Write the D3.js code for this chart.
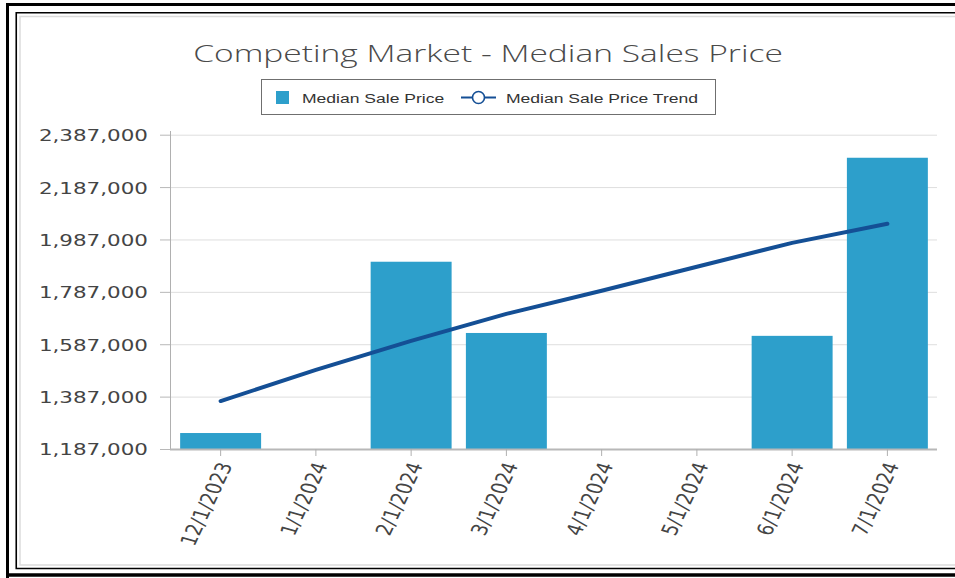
<!DOCTYPE html>
<html>
<head>
<meta charset="utf-8">
<script src="https://cdn.jsdelivr.net/npm/d3@7/dist/d3.min.js"></script>
<style>
  html, body { margin: 0; padding: 0; background: #fff; }
  svg { display: block; }
</style>
</head>
<body>
<svg id="chart" width="955" height="578"></svg>
<script>
// Competing Market - Median Sales Price: barras + línea de tendencia

const categories = ['12/1/2023', '1/1/2024', '2/1/2024', '3/1/2024', '4/1/2024', '5/1/2024', '6/1/2024', '7/1/2024'];
const salePrice = [1248000, null, 1902000, 1630000, null, null, 1619000, 2299000];
const salePriceTrend = [1370000, 1489000, 1600000, 1703000, 1791000, 1883000, 1974000, 2047000];
const yTicks = [1187000, 1387000, 1587000, 1787000, 1987000, 2187000, 2387000];
const seriesNames = ['Median Sale Price', 'Median Sale Price Trend'];
const chartTitle = 'Competing Market - Median Sales Price';

const BAR_COL = '#2d9fcb';
const LINE_COL = '#144f95';
const SX = 1.3; // la captura está estirada en horizontal

const svg = d3.select('#chart');
const W = 955, H = 578;
const M = { left: 170, right: 937, top: 134.7, bottom: 449 };

// marco de la captura
svg.append('rect').attr('width', W).attr('height', H).attr('fill', '#fff');
svg.append('path')
  .attr('d', `M7.5,${H} V4.5 H${W}`)
  .attr('fill', 'none').attr('stroke', '#000').attr('stroke-width', 3);
svg.append('line').attr('x1', 6).attr('x2', W).attr('y1', 575).attr('y2', 575)
  .attr('stroke', '#000').attr('stroke-width', 3.5);
svg.append('path')
  .attr('d', `M${W},12.75 H16.25 V568.5 H${W}`)
  .attr('fill', 'none').attr('stroke', '#000').attr('stroke-width', 1.6);
svg.append('path')
  .attr('d', `M${W},16.5 H20 V565 H${W}`)
  .attr('fill', 'none').attr('stroke', '#dcdcdc').attr('stroke-width', 1.5);

// título
const title = svg.append('text')
  .text(chartTitle)
  .attr('font-family', '"Open Sans", "Noto Sans", sans-serif')
  .attr('font-weight', 300)
  .attr('font-size', 24)
  .attr('fill', '#4a4a4a')
  .attr('text-anchor', 'middle');
{
  const tw = title.node().getComputedTextLength();
  const k = 590 / tw;
  title.attr('transform', `translate(488,62) scale(${k},1)`);
}

// leyenda
const lg = svg.append('g');
lg.append('rect').attr('x', 261.5).attr('y', 79.5).attr('width', 454).attr('height', 35)
  .attr('fill', '#fff').attr('stroke', '#6f6f6f').attr('stroke-width', 1);
lg.append('rect').attr('x', 276).attr('y', 91).attr('width', 13).attr('height', 13).attr('fill', BAR_COL);
lg.append('line').attr('x1', 461).attr('x2', 496).attr('y1', 97.5).attr('y2', 97.5)
  .attr('stroke', LINE_COL).attr('stroke-width', 2);
lg.append('circle').attr('cx', 478.5).attr('cy', 97.5).attr('r', 6)
  .attr('fill', '#fff').attr('stroke', LINE_COL).attr('stroke-width', 1.6);
[[302, seriesNames[0]], [506, seriesNames[1]]].forEach(([x, s]) => {
  lg.append('text').text(s)
    .attr('transform', `translate(${x},103) scale(${SX},1)`)
    .attr('font-family', '"Liberation Sans", Arial, sans-serif')
    .attr('font-size', 13.5).attr('fill', '#333');
});

// escalas
const x = d3.scaleBand().domain(categories).range([173, 935]).paddingInner(0.15).paddingOuter(0.075);
const y = d3.scaleLinear().domain([yTicks[0], yTicks[yTicks.length - 1]]).range([M.bottom, M.top]);

// rejilla
const grid = svg.append('g').attr('transform', `translate(${M.left},0)`)
  .call(d3.axisLeft(y).tickValues(yTicks).tickSize(-(M.right - M.left)).tickFormat(''));
grid.select('.domain').remove();
grid.selectAll('line').attr('stroke', '#dedede').attr('stroke-width', 1);

// eje y
const ya = svg.append('g').attr('transform', `translate(${M.left},0)`)
  .call(d3.axisLeft(y).tickValues(yTicks).tickSize(10).tickPadding(0).tickFormat(d3.format(',')));
ya.select('.domain').attr('d', `M0.5,131 V${M.bottom}`).attr('stroke', '#b0b0b0');
ya.selectAll('.tick line').attr('stroke', '#b8b8b8');
ya.selectAll('.tick text')
  .attr('x', null).attr('dy', '0.36em')
  .attr('transform', `translate(-22,0) scale(${SX},1)`)
  .attr('font-family', '"DejaVu Sans", Verdana, sans-serif')
  .attr('font-size', 16.5).attr('fill', '#444');

// barras
svg.append('g').selectAll('rect')
  .data(categories.map((c, i) => ({ c, v: salePrice[i] })).filter(d => d.v != null))
  .join('rect')
  .attr('x', d => x(d.c))
  .attr('width', x.bandwidth())
  .attr('y', d => y(d.v))
  .attr('height', d => y(yTicks[0]) - y(d.v))
  .attr('fill', BAR_COL);

// eje x
const xa = svg.append('g').attr('transform', `translate(0,${M.bottom})`)
  .call(d3.axisBottom(x).tickSize(7).tickSizeOuter(0));
xa.select('.domain').attr('d', `M${M.left},0.5 H${M.right}`).attr('stroke', '#b8b8b8').attr('stroke-width', 2);
xa.selectAll('.tick line').attr('stroke', '#b0b0b0');
xa.selectAll('.tick text').each(function () {
  const t = d3.select(this);
  const parent = d3.select(this.parentNode);
  const g = parent.append('g').attr('transform', `translate(5,14) scale(${SX},1)`);
  g.append('text').text(t.text())
    .attr('transform', 'rotate(-70)')
    .attr('text-anchor', 'end').attr('dy', '0.35em')
    .attr('font-family', '"DejaVu Sans", Verdana, sans-serif')
    .attr('font-size', 17).attr('fill', '#444');
  t.remove();
});

// línea de tendencia
svg.append('path')
  .datum(salePriceTrend)
  .attr('d', d3.line().x((d, i) => x(categories[i]) + x.bandwidth() / 2).y(d => y(d)))
  .attr('fill', 'none').attr('stroke', LINE_COL).attr('stroke-width', 4)
  .attr('stroke-linecap', 'round').attr('stroke-linejoin', 'round');
</script>
</body>
</html>
